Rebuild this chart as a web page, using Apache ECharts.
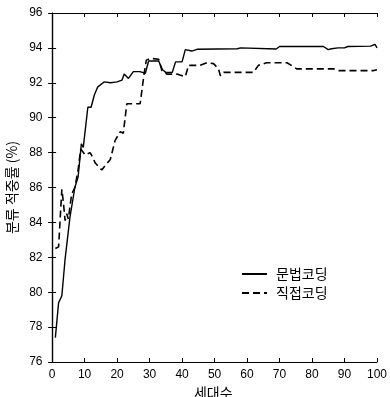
<!DOCTYPE html>
<html>
<head>
<meta charset="utf-8">
<script src="https://cdn.jsdelivr.net/npm/echarts@6/dist/echarts.min.js"></script>
<style>
html,body{margin:0;padding:0;background:#fff;}
#c{width:390px;height:397px;}
</style>
</head>
<body>
<div id="c"></div>
<script>
// Data
const seriesNames = ['문법코딩', '직접코딩'];
const xTicks = [0, 10, 20, 30, 40, 50, 60, 70, 80, 90, 100];
const yTicks = [76, 78, 80, 82, 84, 86, 88, 90, 92, 94, 96];
const grammarX = [1, 2, 3, 4, 5.5, 7, 8, 9, 9.6, 11, 12, 13, 14, 16, 18, 20, 21.5, 22.2, 23.5, 25, 27, 28.7, 29.7, 32.8, 34, 35, 37, 38, 40, 41, 43, 44.6, 57, 58, 69, 70, 83.5, 85, 86, 88, 90, 91, 98, 99.4, 100];
const grammarY = [77.4, 79.4, 79.8, 81.9, 84.3, 86.0, 86.6, 88.5, 88.3, 90.6, 90.6, 91.3, 91.75, 92.05, 92.0, 92.05, 92.15, 92.5, 92.25, 92.64, 92.64, 92.55, 93.25, 93.25, 92.75, 92.6, 92.6, 93.2, 93.2, 93.9, 93.82, 93.92, 93.95, 94.0, 93.94, 94.08, 94.08, 93.9, 93.95, 94.0, 94.0, 94.08, 94.1, 94.2, 94.0];
const directX = [1, 2, 2.6, 3, 3.5, 4, 4.5, 5, 6, 7, 8, 8.8, 10.2, 11.7, 12.3, 13.3, 15.3, 16.5, 17.9, 19.4, 21, 21.9, 23, 27.1, 28.3, 29, 30.2, 32.8, 33.8, 35.3, 38.4, 41, 42, 45.6, 47.7, 49.7, 51.2, 51.8, 52.8, 62, 63.5, 66, 72.3, 75.3, 86.6, 88.2, 99, 100];
const directY = [82.5, 82.6, 82.7, 85.9, 85.1, 84.1, 84.5, 84.2, 85.6, 86.0, 87.0, 88.2, 87.86, 88.0, 87.8, 87.4, 87.0, 87.3, 87.6, 88.7, 89.2, 89.1, 90.8, 90.8, 92.5, 93.3, 93.4, 93.35, 92.7, 92.5, 92.5, 92.35, 93.0, 93.0, 93.15, 93.1, 92.8, 92.4, 92.6, 92.6, 93.0, 93.15, 93.15, 92.8, 92.8, 92.7, 92.7, 92.75];

const numFont = "'Liberation Sans Narrow', 'Liberation Sans', Arial, sans-serif";
const krFont = "'Noto Sans CJK KR', sans-serif";

function pairs(xs, ys) { return xs.map((x, i) => [x, ys[i]]); }

const chart = echarts.init(document.getElementById('c'), null, {renderer: 'canvas'});
const axisLine = {show: true, lineStyle: {color: '#000', width: 1.2}};
chart.setOption({
  animation: false,
  backgroundColor: '#fff',
  grid: {left: 49.5, right: 13, top: 13, bottom: 35, containLabel: false, outerBoundsMode: 'none'},
  legend: {
    orient: 'vertical',
    left: 236,
    top: 262,
    itemWidth: 25,
    itemHeight: 10,
    itemGap: 5,
    itemStyle: {opacity: 0},
    textStyle: {fontFamily: krFont, fontSize: 14, color: '#000', padding: [0, 0, 0, 4]},
    data: seriesNames
  },
  xAxis: [{
    type: 'value', min: -0.8, max: 100, position: 'bottom',
    axisLine: axisLine,
    axisTick: {show: true, inside: true, length: 4, customValues: xTicks, lineStyle: {color: '#000'}},
    axisLabel: {customValues: xTicks, margin: 7, fontFamily: numFont, fontSize: 12, color: '#000'},
    splitLine: {show: false},
    name: '세대수', nameLocation: 'middle', nameGap: 20,
    nameTextStyle: {fontFamily: krFont, fontSize: 14, color: '#000'}
  }, {
    type: 'value', min: -0.8, max: 100, position: 'top',
    axisLine: axisLine,
    axisTick: {show: true, inside: true, length: 4, customValues: xTicks, lineStyle: {color: '#000'}},
    axisLabel: {show: false},
    splitLine: {show: false}
  }],
  yAxis: [{
    type: 'value', min: 76, max: 96, interval: 2, position: 'left',
    axisLine: axisLine,
    axisTick: {show: true, inside: true, length: 4, lineStyle: {color: '#000'}},
    axisLabel: {margin: 7, fontFamily: numFont, fontSize: 12, color: '#000', customValues: yTicks},
    splitLine: {show: false},
    name: '분류 적중률 (%)', nameLocation: 'middle', nameGap: 30, nameRotate: 90,
    nameTextStyle: {fontFamily: krFont, fontSize: 14, color: '#000'}
  }, {
    type: 'value', min: 76, max: 96, interval: 2, position: 'right',
    axisLine: axisLine,
    axisTick: {show: true, inside: true, length: 4, lineStyle: {color: '#000'}},
    axisLabel: {show: false},
    splitLine: {show: false}
  }],
  series: [{
    name: seriesNames[0], type: 'line', xAxisIndex: 0, yAxisIndex: 0,
    data: pairs(grammarX, grammarY),
    symbol: 'none', color: '#000',
    lineStyle: {color: '#000', width: 1.4, type: 'solid'}
  }, {
    name: seriesNames[1], type: 'line', xAxisIndex: 0, yAxisIndex: 0,
    data: pairs(directX, directY),
    symbol: 'none', color: '#000',
    lineStyle: {color: '#000', width: 1.6, type: [7, 4]}
  }]
});
</script>
</body>
</html>
